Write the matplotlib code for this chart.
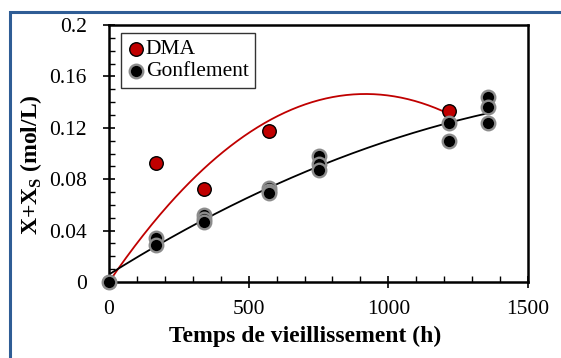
import numpy as np
import matplotlib
matplotlib.use("Agg")
import matplotlib.pyplot as plt
from matplotlib.patches import Rectangle
from matplotlib.ticker import MultipleLocator

# DMA
t_dma = [0, 168, 340, 573, 1217]
x_dma = [0.0, 0.0926, 0.0724, 0.1175, 0.133]

# Gonflement
t_gon = [0, 168, 168, 340, 340, 340, 573, 573, 573, 750, 750, 750, 1217, 1217, 1356, 1356, 1356]
x_gon = [0.0, 0.034, 0.029, 0.052, 0.049, 0.047, 0.073, 0.071, 0.069,
         0.098, 0.092, 0.087, 0.124, 0.110, 0.144, 0.136, 0.124]

plt.rcParams["font.family"] = ["Liberation Serif", "DejaVu Serif"]
plt.rcParams["mathtext.fontset"] = "custom"
plt.rcParams["mathtext.rm"] = "Liberation Serif"
plt.rcParams["mathtext.bf"] = "Liberation Serif:bold"

fig = plt.figure(figsize=(5.61, 3.58), dpi=100)
ax = fig.add_axes([109 / 561, 1 - 282 / 358, (528 - 109) / 561, (282 - 25) / 358])

# blue frame around the chart
fig.patches.append(Rectangle((9.5 / 561, -0.1), 1.2, 1 - 11.5 / 358 + 0.1, transform=fig.transFigure,
                             fill=False, edgecolor="#2F5D95", linewidth=2.2, zorder=0))

# polynomial trendlines
td = np.array(t_dma, dtype=float)
A = np.column_stack([td ** 2, td])
c_dma = np.linalg.lstsq(A, np.array(x_dma), rcond=None)[0]  # intercept forced to 0
tt = np.linspace(0, max(t_dma), 200)
ax.plot(tt, c_dma[0] * tt ** 2 + c_dma[1] * tt, color="#C00000", lw=1.3, zorder=2)
c_gon = np.polyfit(t_gon, x_gon, 2)
tt = np.linspace(0, max(t_gon), 200)
ax.plot(tt, np.polyval(c_gon, tt), color="black", lw=1.3, zorder=2)

ax.scatter(t_dma, x_dma, s=95, color="#C00000", edgecolors="black", linewidths=1.0, zorder=3,
           label="DMA", clip_on=False)
ax.scatter(t_gon, x_gon, s=95, color="black", edgecolors="#8C8C8C", linewidths=1.7, zorder=4,
           label="Gonflement", clip_on=False)

ax.set_xlim(0, 1500)
ax.set_ylim(0, 0.2)
ax.set_xticks([0, 500, 1000, 1500])
ax.set_yticks([0, 0.04, 0.08, 0.12, 0.16, 0.2])
ax.set_yticklabels(["0", "0.04", "0.08", "0.12", "0.16", "0.2"])
ax.xaxis.set_minor_locator(MultipleLocator(100))
ax.yaxis.set_minor_locator(MultipleLocator(0.01))
ax.tick_params(which="major", direction="inout", length=8, width=1.2, labelsize=15.5)
ax.tick_params(axis="x", which="major", pad=9)
ax.tick_params(axis="y", which="major", pad=12)
ax.tick_params(which="minor", direction="in", length=4, width=1.0)
for s in ax.spines.values():
    s.set_linewidth(1.8)

ax.set_xlabel("Temps de vieillissement (h)", fontsize=17, fontweight="bold")
ax.set_ylabel(r"X+X$_\mathbf{S}$ (mol/L)", fontsize=17, fontweight="bold")
ax.xaxis.set_label_coords(0.468, -0.17)
ax.yaxis.set_label_coords(-0.155, 0.455)

leg = ax.legend(loc="upper left", bbox_to_anchor=(0.028, 0.97), fontsize=15.5,
                frameon=True, fancybox=False, edgecolor="black", handletextpad=0.07,
                handlelength=0.8, borderpad=0.3, labelspacing=0.1, borderaxespad=0)
leg.get_frame().set_linewidth(1.0)

fig.savefig("out.png", dpi=100)
